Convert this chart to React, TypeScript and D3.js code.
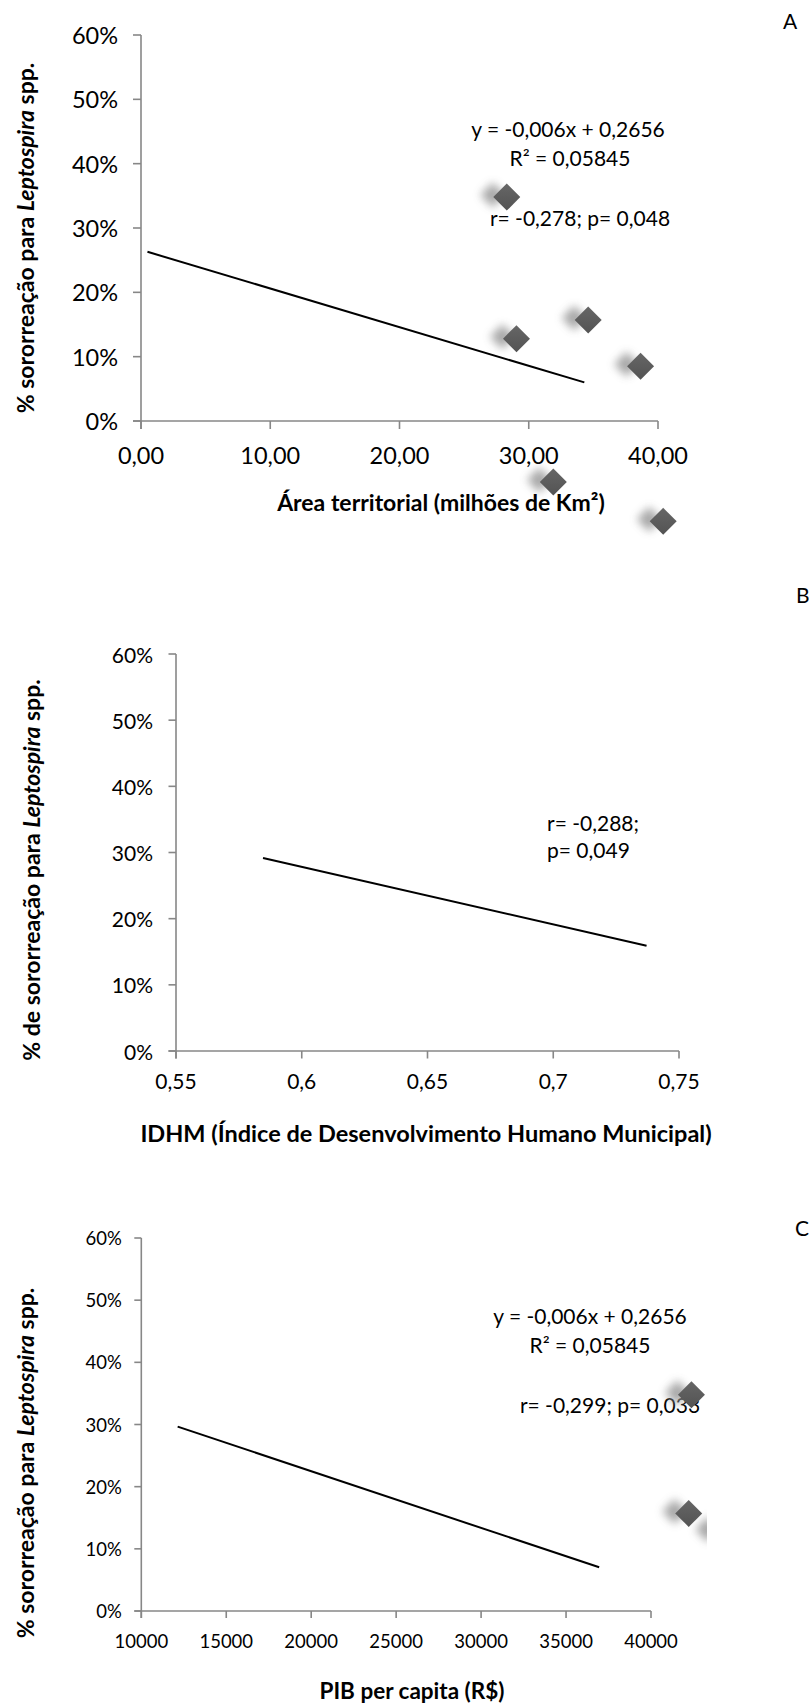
import React from "react";
import * as d3 from "d3";

// ---------- DATA ----------
const yTicks = [0, 0.1, 0.2, 0.3, 0.4, 0.5, 0.6];
const yTickLabels = ["0%", "10%", "20%", "30%", "40%", "50%", "60%"];

// Panel A – Área territorial
const xTicksA = [0, 10, 20, 30, 40];
const xTickLabelsA = ["0,00", "10,00", "20,00", "30,00", "40,00"];
const pointsAx = [28.3, 29.05, 34.6, 38.65, 31.9, 40.4];
const pointsAy = [0.348, 0.128, 0.157, 0.085, -0.095, -0.156];
const trendAx = [0.5, 34.3];
const trendAy = [0.263, 0.06];

// Panel B – IDHM
const xTicksB = [0.55, 0.6, 0.65, 0.7, 0.75];
const xTickLabelsB = ["0,55", "0,6", "0,65", "0,7", "0,75"];
const trendBx = [0.5846, 0.7371];
const trendBy = [0.2917, 0.159];

// Panel C – PIB per capita
const xTicksC = [10000, 15000, 20000, 25000, 30000, 35000, 40000];
const xTickLabelsC = ["10000", "15000", "20000", "25000", "30000", "35000", "40000"];
const pointsCx = [42380, 42220, 44160];
const pointsCy = [0.348, 0.157, 0.128];
const trendCx = [12140, 36950];
const trendCy = [0.2965, 0.0703];

const FONT = "Lato, 'Carlito', Calibri, sans-serif";
const AXIS = "#878787";

type PanelProps = {
  x: d3.ScaleLinear<number, number>;
  y: d3.ScaleLinear<number, number>;
  xTicks: number[];
  xLabels: string[];
  tickLen: number;
  xFont: number;
  yFont: number;
  xLabelBaseline: number;
  yLabelGap: number;
  trendX: number[];
  trendY: number[];
  px?: number[];
  py?: number[];
  clipId?: string;
};

function diamondPath(cx: number, cy: number, r: number) {
  return `M${cx},${cy - r}L${cx + r},${cy}L${cx},${cy + r}L${cx - r},${cy}Z`;
}

function Panel(p: PanelProps) {
  const [x0, x1] = p.x.range();
  const [y0, y1] = p.y.range(); // y0 bottom, y1 top
  const line = d3
    .line<number>()
    .x((_, i) => p.x(p.trendX[i]))
    .y((_, i) => p.y(p.trendY[i]));
  const pts = (p.px || []).map((v, i) => ({ cx: p.x(v), cy: p.y((p.py || [])[i]) }));
  return (
    <g fontFamily={FONT}>
      {/* y axis */}
      <line x1={x0} x2={x0} y1={y1} y2={y0 + p.tickLen} stroke={AXIS} strokeWidth={1.6} />
      {yTicks.map((t, i) => (
        <g key={"yt" + i}>
          <line x1={x0 - p.tickLen} x2={x0} y1={p.y(t)} y2={p.y(t)} stroke={AXIS} strokeWidth={1.6} />
          <text
            x={x0 - p.yLabelGap}
            y={p.y(t)}
            textAnchor="end"
            dominantBaseline="central"
            fontSize={p.yFont}
            fill="#000"
          >
            {yTickLabels[i]}
          </text>
        </g>
      ))}
      {/* x axis */}
      <line x1={x0 - p.tickLen} x2={x1} y1={y0} y2={y0} stroke={AXIS} strokeWidth={1.6} />
      {p.xTicks.map((t, i) => (
        <g key={"xt" + i}>
          <line x1={p.x(t)} x2={p.x(t)} y1={y0} y2={y0 + p.tickLen} stroke={AXIS} strokeWidth={1.6} />
          <text x={p.x(t)} y={p.xLabelBaseline} textAnchor="middle" fontSize={p.xFont} fill="#000">
            {p.xLabels[i]}
          </text>
        </g>
      ))}
      {/* trend line */}
      <path d={line(p.trendX) || ""} stroke="#000" strokeWidth={2} fill="none" />
      {/* points */}
      <g clipPath={p.clipId ? `url(#${p.clipId})` : undefined}>
        {pts.map((d, i) => (
          <g key={"pt" + i}>
            <path
              d={diamondPath(d.cx - 14, d.cy - 2, 12.5)}
              fill="#9a9a9a"
              opacity={0.85}
              filter="url(#blurShadow)"
            />
            <path d={diamondPath(d.cx, d.cy, 13.5)} fill="url(#diaGrad)" />
          </g>
        ))}
      </g>
    </g>
  );
}

export default function App() {
  const xA = d3.scaleLinear().domain([0, 40]).range([141, 658]);
  const yA = d3.scaleLinear().domain([0, 0.6]).range([421, 35]);
  const xB = d3.scaleLinear().domain([0.55, 0.75]).range([176, 679]);
  const yB = d3.scaleLinear().domain([0, 0.6]).range([1051, 654]);
  const xC = d3.scaleLinear().domain([10000, 40000]).range([141.3, 651]);
  const yC = d3.scaleLinear().domain([0, 0.6]).range([1611, 1238]);

  return (
    <svg
      width={809}
      height={1708}
      viewBox="0 0 809 1708"
      style={{ position: "absolute", left: 0, top: 0, background: "#fff" }}
    >
      <defs>
        <filter id="blurShadow" x="-100%" y="-100%" width="300%" height="300%">
          <feGaussianBlur stdDeviation={4.5} />
        </filter>
        <linearGradient id="diaGrad" x1="0" y1="0" x2="0" y2="1">
          <stop offset="0" stopColor="#666" />
          <stop offset="1" stopColor="#535353" />
        </linearGradient>
        <clipPath id="clipC">
          <rect x={0} y={1100} width={707} height={600} />
        </clipPath>
      </defs>
      <rect x={0} y={0} width={809} height={1708} fill="#fff" />

      {/* Panel A */}
      <Panel
        x={xA}
        y={yA}
        xTicks={xTicksA}
        xLabels={xTickLabelsA}
        tickLen={8}
        xFont={23.5}
        yFont={23.5}
        xLabelBaseline={464}
        yLabelGap={23}
        trendX={trendAx}
        trendY={trendAy}
        px={pointsAx}
        py={pointsAy}
      />
      <text x={790} y={29} textAnchor="middle" fontSize={21} fontFamily={FONT}>A</text>
      <text
        transform="translate(25,238) rotate(-90)"
        textAnchor="middle"
        dominantBaseline="central"
        fontSize={23}
        fontWeight="bold"
        fontFamily={FONT}
      >
        % sororreação para <tspan fontStyle="italic">Leptospira</tspan> spp.
      </text>
      <text x={441} y={511} textAnchor="middle" fontSize={23} fontWeight="bold" fontFamily={FONT}>
        Área territorial (milhões de Km²)
      </text>
      <g fontFamily={FONT} fontSize={21} textAnchor="middle">
        <text x={568} y={137}>y = -0,006x + 0,2656</text>
        <text x={570} y={166}>R² = 0,05845</text>
        <text x={580} y={225.5}>r= -0,278; p= 0,048</text>
      </g>

      {/* Panel B */}
      <Panel
        x={xB}
        y={yB}
        xTicks={xTicksB}
        xLabels={xTickLabelsB}
        tickLen={7.5}
        xFont={21}
        yFont={21}
        xLabelBaseline={1089}
        yLabelGap={23}
        trendX={trendBx}
        trendY={trendBy}
      />
      <text x={796} y={603} fontSize={21} fontFamily={FONT}>B</text>
      <text
        transform="translate(31,870) rotate(-90)"
        textAnchor="middle"
        dominantBaseline="central"
        fontSize={23}
        fontWeight="bold"
        fontFamily={FONT}
      >
        % de sororreação para <tspan fontStyle="italic">Leptospira</tspan> spp.
      </text>
      <text x={426} y={1142} textAnchor="middle" fontSize={23.5} fontWeight="bold" fontFamily={FONT}>
        IDHM (Índice de Desenvolvimento Humano Municipal)
      </text>
      <g fontFamily={FONT} fontSize={21}>
        <text x={547} y={831}>r= -0,288;</text>
        <text x={547} y={858}>p= 0,049</text>
      </g>

      {/* Panel C */}
      <g fontFamily={FONT} fontSize={21} textAnchor="middle">
        <text x={590} y={1324}>y = -0,006x + 0,2656</text>
        <text x={590} y={1353}>R² = 0,05845</text>
        <text x={610} y={1413}>r= -0,299; p= 0,033</text>
      </g>
      <Panel
        x={xC}
        y={yC}
        xTicks={xTicksC}
        xLabels={xTickLabelsC}
        tickLen={7}
        xFont={18.5}
        yFont={18.5}
        xLabelBaseline={1648}
        yLabelGap={19.5}
        trendX={trendCx}
        trendY={trendCy}
        px={pointsCx}
        py={pointsCy}
        clipId="clipC"
      />
      <text x={795} y={1236} fontSize={21} fontFamily={FONT}>C</text>
      <text
        transform="translate(25,1463) rotate(-90)"
        textAnchor="middle"
        dominantBaseline="central"
        fontSize={23}
        fontWeight="bold"
        fontFamily={FONT}
      >
        % sororreação para <tspan fontStyle="italic">Leptospira</tspan> spp.
      </text>
      <text x={412} y={1699} textAnchor="middle" fontSize={22.5} fontWeight="bold" fontFamily={FONT}>
        PIB per capita (R$)
      </text>
    </svg>
  );
}
